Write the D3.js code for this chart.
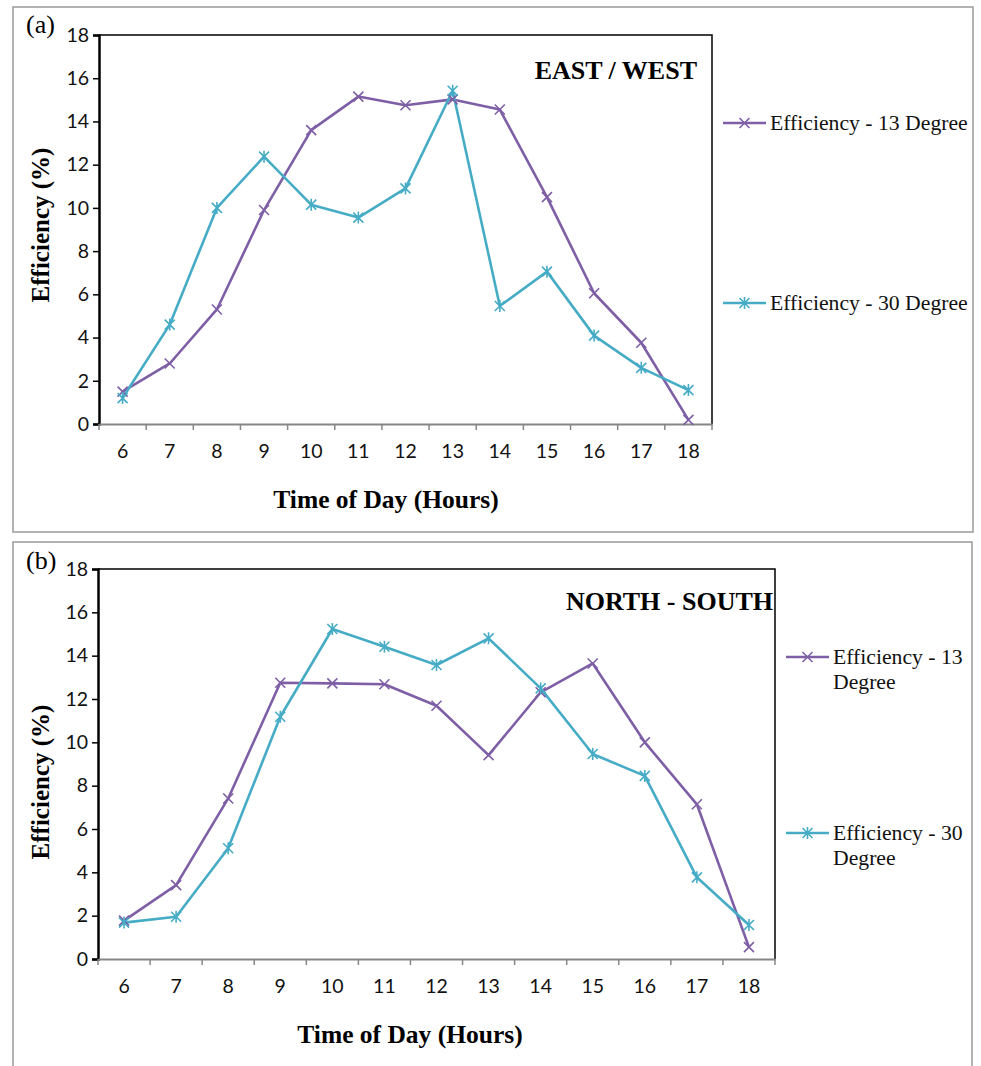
<!DOCTYPE html>
<html><head><meta charset="utf-8">
<script src="https://cdn.jsdelivr.net/npm/d3@7"></script>
<style>body{margin:0;background:#fff}svg{display:block}</style>
</head><body>
<script>
const hours = [6,7,8,9,10,11,12,13,14,15,16,17,18];
const yTicks = [0,2,4,6,8,10,12,14,16,18];
const eastWest13 = [1.5,2.8,5.3,9.9,13.6,15.15,14.75,15.02,14.55,10.5,6.05,3.76,0.19];
const eastWest30 = [1.2,4.6,10.0,12.37,10.15,9.55,10.9,15.42,5.46,7.05,4.09,2.6,1.57];
const northSouth13 = [1.77,3.41,7.41,12.75,12.72,12.68,11.69,9.41,12.31,13.64,10.0,7.14,0.55];
const northSouth30 = [1.68,1.95,5.11,11.18,15.23,14.41,13.57,14.8,12.49,9.46,8.45,3.77,1.57];
const seriesNames = ["Efficiency - 13 Degree","Efficiency - 30 Degree"];
const colors = ["#7e5fa6","#46acc6"];

const svg = d3.select("body").append("svg").attr("width",981).attr("height",1066);

const serif = "'Liberation Serif','Times New Roman',serif";
const sans = "Lato,'Open Sans',sans-serif";

function marker(g, type, x, y, color){
  const s = 5;
  const p = d3.path();
  p.moveTo(x-s,y-s); p.lineTo(x+s,y+s);
  p.moveTo(x-s,y+s); p.lineTo(x+s,y-s);
  if(type==="star"){ p.moveTo(x,y-s-1); p.lineTo(x,y+s+1); }
  g.append("path").attr("d",p.toString()).attr("stroke",color).attr("stroke-width",1.6).attr("fill","none");
}

function panel(cfg){
  const g = svg.append("g");
  g.append("rect").attr("x",cfg.frame[0]).attr("y",cfg.frame[1]).attr("width",cfg.frame[2]).attr("height",cfg.frame[3])
    .attr("fill","none").attr("stroke","#9a9a9a").attr("stroke-width",1.5);
  g.append("text").attr("x",cfg.tag[0]).attr("y",cfg.tag[1]).text(cfg.tagText)
    .attr("font-family",serif).attr("font-size",26);

  const x = d3.scaleBand().domain(hours).range([cfg.left,cfg.right]).paddingInner(0).paddingOuter(0);
  const y = d3.scaleLinear().domain([0,18]).range([cfg.bottom,cfg.top]);

  g.append("path").attr("d",`M${cfg.left},${cfg.top}H${cfg.right}V${cfg.bottom}`)
    .attr("fill","none").attr("stroke","#000").attr("stroke-width",1.5);

  const ya = g.append("g").attr("transform",`translate(${cfg.left},0)`)
    .call(d3.axisLeft(y).tickValues(yTicks).tickSize(6).tickPadding(4));
  ya.select(".domain").attr("stroke","#000").attr("stroke-width",2.5);
  ya.selectAll(".tick line").attr("stroke","#000").attr("stroke-width",1.5);
  ya.selectAll("text").attr("font-family",sans).attr("font-size",19.5).attr("fill","#111");

  const xa = g.append("g").attr("transform",`translate(0,${cfg.bottom})`)
    .call(d3.axisBottom(x).tickSize(0).tickPadding(20));
  xa.select(".domain").attr("stroke","#868686").attr("stroke-width",2);
  xa.selectAll("text").attr("font-family",sans).attr("font-size",19.5).attr("fill","#111");
  const bounds = hours.map(h=>x(h)).concat([cfg.right]);
  xa.selectAll("line.bt").data(bounds).enter().append("line").attr("class","bt")
    .attr("x1",d=>d).attr("x2",d=>d).attr("y1",0).attr("y2",6)
    .attr("stroke","#868686").attr("stroke-width",1.5);

  const cx = h => x(h)+x.bandwidth()/2;
  cfg.data.forEach((vals,i)=>{
    const line = d3.line().x((d,j)=>cx(hours[j])).y(d=>y(d));
    g.append("path").datum(vals).attr("d",line).attr("fill","none")
      .attr("stroke",colors[i]).attr("stroke-width",2.6).attr("stroke-linejoin","round");
  });
  cfg.data.forEach((vals,i)=>{
    vals.forEach((v,j)=>marker(g, i===0?"x":"star", cx(hours[j]), y(v), colors[i]));
  });

  g.append("text").attr("x",cfg.titleRight).attr("y",cfg.titleY).attr("text-anchor","end")
    .attr("font-family",serif).attr("font-weight","bold").attr("font-size",26).text(cfg.title);
  g.append("text").attr("x",cfg.xTitle[0]).attr("y",cfg.xTitle[1]).attr("text-anchor","middle")
    .attr("font-family",serif).attr("font-weight","bold").attr("font-size",25.5).text("Time of Day (Hours)");
  g.append("text").attr("transform",`translate(${cfg.yTitle[0]},${cfg.yTitle[1]}) rotate(-90)`)
    .attr("text-anchor","middle").attr("font-family",serif).attr("font-weight","bold").attr("font-size",25)
    .text("Efficiency (%)");

  cfg.legend.forEach((lg,i)=>{
    const lx = cfg.legX, ly = lg.y;
    g.append("line").attr("x1",lx).attr("x2",lx+43).attr("y1",ly).attr("y2",ly)
      .attr("stroke",colors[i]).attr("stroke-width",2.6);
    marker(g, i===0?"x":"star", lx+21.5, ly, colors[i]);
    const t = g.append("text").attr("x",lx+47).attr("y",ly+7).attr("font-family",serif).attr("font-size",21.7).attr("fill","#111");
    lg.lines.forEach((s,k)=>t.append("tspan").attr("x",lx+47).attr("dy",k===0?0:25).text(s));
  });
}

panel({
  frame:[13,7,960,525], tag:[26,33], tagText:"(a)",
  left:99,right:712,top:35,bottom:424,
  data:[eastWest13,eastWest30],
  title:"EAST / WEST", titleRight:697, titleY:79,
  xTitle:[386,508], yTitle:[49,225],
  legX:723,
  legend:[{y:123,lines:[seriesNames[0]]},{y:303,lines:[seriesNames[1]]}]
});
panel({
  frame:[13,542,959,530], tag:[26,569], tagText:"(b)",
  left:98,right:775,top:569,bottom:959,
  data:[northSouth13,northSouth30],
  title:"NORTH - SOUTH", titleRight:773, titleY:610,
  xTitle:[410,1043], yTitle:[49,782],
  legX:786,
  legend:[{y:657,lines:["Efficiency - 13","Degree"]},{y:833,lines:["Efficiency - 30","Degree"]}]
});
</script>
</body></html>
